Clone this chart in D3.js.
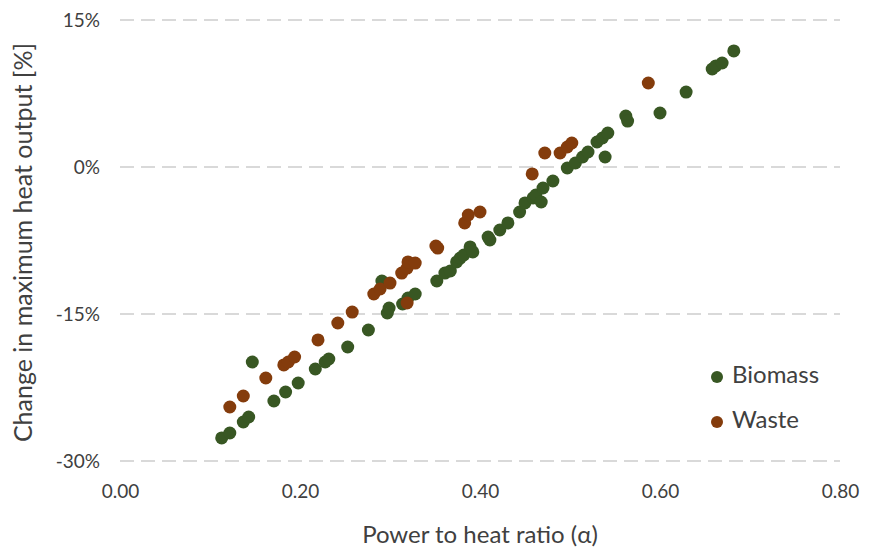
<!DOCTYPE html>
<html>
<head>
<meta charset="utf-8">
<script src="https://cdn.jsdelivr.net/npm/d3@7"></script>
<style>
  html, body { margin: 0; padding: 0; background: #ffffff; }
  svg { display: block; }
  text { font-family: Lato, "Open Sans", "Liberation Sans", sans-serif; fill: #404040; }
</style>
</head>
<body>
<svg id="chart" width="869" height="554"></svg>
<script>
// Power-to-heat ratio (alpha) and change in maximum heat output (%) per plant
const biomassAlpha = [0.113, 0.122, 0.137, 0.143, 0.147, 0.171, 0.184, 0.198, 0.217, 0.228,
  0.232, 0.253, 0.276, 0.291, 0.297, 0.299, 0.314, 0.320, 0.328, 0.352,
  0.361, 0.367, 0.374, 0.378, 0.382, 0.389, 0.392, 0.409, 0.411, 0.422,
  0.431, 0.444, 0.450, 0.459, 0.462, 0.468, 0.470, 0.481, 0.497, 0.506,
  0.514, 0.520, 0.530, 0.536, 0.542, 0.539, 0.562, 0.564, 0.600, 0.629,
  0.658, 0.662, 0.669, 0.682];
const biomassChange = [-27.65, -27.14, -26.02, -25.51, -19.90, -23.88, -22.96, -22.04, -20.61, -19.90,
  -19.59, -18.37, -16.63, -11.63, -14.90, -14.39, -13.98, -13.37, -12.96, -11.63,
  -10.82, -10.61, -9.69, -9.29, -8.98, -8.16, -8.67, -7.14, -7.45, -6.43,
  -5.71, -4.59, -3.67, -3.16, -2.86, -3.57, -2.14, -1.43, -0.10, 0.41,
  1.02, 1.53, 2.55, 2.96, 3.47, 1.02, 5.20, 4.69, 5.51, 7.65,
  10.00, 10.31, 10.61, 11.84];

const wasteAlpha = [0.122, 0.137, 0.162, 0.182, 0.187, 0.194, 0.220, 0.242, 0.258, 0.282,
  0.289, 0.300, 0.313, 0.319, 0.320, 0.328, 0.319, 0.351, 0.353, 0.383,
  0.387, 0.400, 0.458, 0.472, 0.489, 0.497, 0.502, 0.587];
const wasteChange = [-24.49, -23.37, -21.53, -20.20, -19.90, -19.39, -17.65, -15.92, -14.80, -12.96,
  -12.45, -11.84, -10.82, -10.31, -9.69, -9.80, -13.88, -8.06, -8.27, -5.71,
  -4.90, -4.59, -0.71, 1.43, 1.43, 2.04, 2.45, 8.57];

const xTicks = [0, 0.2, 0.4, 0.6, 0.8];
const yTicks = [15, 0, -15, -30];

const seriesNames = ["Biomass", "Waste"];
const seriesColors = ["#385723", "#843C0C"];

const svg = d3.select("#chart");
const margin = { left: 120, right: 29, top: 20, bottom: 93 };
const W = 869, H = 554;

const x = d3.scaleLinear().domain([0, 0.8]).range([margin.left, W - margin.right]);
const y = d3.scaleLinear().domain([-30, 15]).range([H - margin.bottom, margin.top]);

// Dashed horizontal gridlines
svg.append("g")
  .selectAll("line")
  .data(yTicks)
  .join("line")
  .attr("x1", x(0)).attr("x2", x(0.8))
  .attr("y1", d => y(d)).attr("y2", d => y(d))
  .attr("stroke", "#d9d9d9")
  .attr("stroke-width", 2)
  .attr("stroke-dasharray", "14,7");

// Y axis tick labels
const yAxis = d3.axisLeft(y).tickValues(yTicks).tickSize(0).tickPadding(20)
  .tickFormat(d => d + "%");
const gy = svg.append("g").attr("transform", `translate(${x(0)},0)`).call(yAxis);
gy.select(".domain").remove();
gy.selectAll("text").style("font-size", "19px").attr("fill", "#404040")
  .style("font-family", "Lato, 'Open Sans', sans-serif");

// X axis tick labels
const xAxis = d3.axisBottom(x).tickValues(xTicks).tickSize(0).tickPadding(24)
  .tickFormat(d3.format(".2f"));
const gx = svg.append("g").attr("transform", `translate(0,${y(-30)})`).call(xAxis);
gx.select(".domain").remove();
gx.selectAll("text").style("font-size", "19px").attr("fill", "#404040")
  .style("font-family", "Lato, 'Open Sans', sans-serif");

// Axis titles
svg.append("text")
  .attr("x", (x(0) + x(0.8)) / 2).attr("y", 537)
  .attr("text-anchor", "middle").attr("dominant-baseline", "middle")
  .style("font-size", "24px")
  .text("Power to heat ratio (α)");

svg.append("text")
  .attr("transform", `translate(26,${(y(15) + y(-30)) / 2 + 2}) rotate(-90)`)
  .attr("text-anchor", "middle").attr("dominant-baseline", "middle")
  .style("font-size", "25px")
  .text("Change in maximum heat output [%]");

// Scatter points
const biomass = biomassAlpha.map((a, i) => ({ a, c: biomassChange[i] }));
const waste = wasteAlpha.map((a, i) => ({ a, c: wasteChange[i] }));

svg.append("g").selectAll("circle").data(biomass).join("circle")
  .attr("cx", d => x(d.a)).attr("cy", d => y(d.c)).attr("r", 6.5)
  .attr("fill", seriesColors[0]);

svg.append("g").selectAll("circle").data(waste).join("circle")
  .attr("cx", d => x(d.a)).attr("cy", d => y(d.c)).attr("r", 6.5)
  .attr("fill", seriesColors[1]);

// Legend
const legend = svg.append("g").attr("transform", "translate(717,377)");
seriesNames.forEach((name, i) => {
  const g = legend.append("g").attr("transform", `translate(0,${i * 45})`);
  g.append("circle").attr("r", 6).attr("fill", seriesColors[i]);
  g.append("text").attr("x", 15).attr("y", 0)
    .attr("dominant-baseline", "middle")
    .style("font-size", "24px")
    .text(name);
});
</script>
</body>
</html>
